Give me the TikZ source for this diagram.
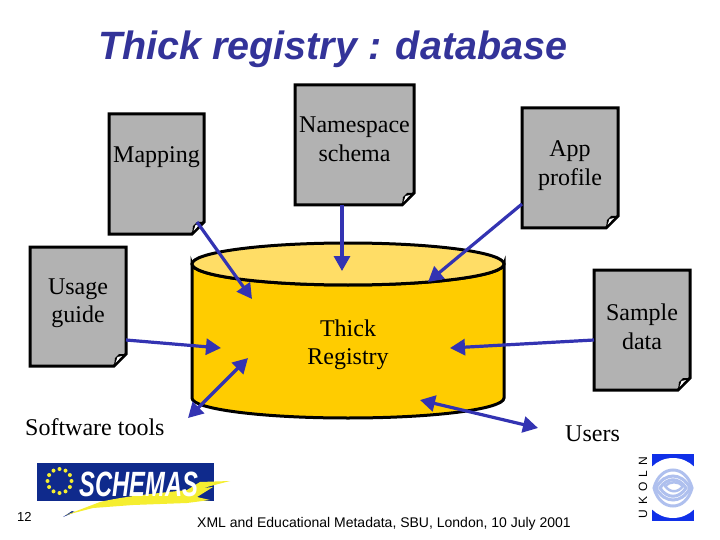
\documentclass[tikz,border=0pt]{standalone}
\usepackage{fontspec}
\setmainfont{Liberation Serif}
\newfontfamily\arialf{Liberation Sans}
\usetikzlibrary{arrows.meta,calc}
\definecolor{arrowblue}{HTML}{3333B2}
\definecolor{titleblue}{HTML}{333399}
\definecolor{docgray}{HTML}{B2B2B2}
\definecolor{cylbody}{HTML}{FFCC00}
\definecolor{cyltop}{HTML}{FFDD66}
\definecolor{logoblue}{HTML}{0F2A8C}
\definecolor{swoosh}{HTML}{F5EE30}
\definecolor{uk}{HTML}{1030E8}
\definecolor{ring}{HTML}{AFC0EE}
\tikzset{
  x=1pt,y=-1pt,
  docbox/.style={draw=none,fill=none,inner sep=0pt,align=center,font=\fontsize{24}{28.5}\selectfont},
  docline/.style={draw=black,line width=3pt,fill=docgray,line join=miter},
  flow/.style={draw=arrowblue,line width=3.2pt,-{Triangle[length=15pt,width=16pt]}},
  flowboth/.style={draw=arrowblue,line width=3.2pt,{Triangle[length=15pt,width=16pt]}-{Triangle[length=15pt,width=16pt]}},
  lbl/.style={inner sep=0pt,align=center,font=\fontsize{24}{28.5}\selectfont},
  foot/.style={inner sep=0pt,anchor=base west,font=\arialf\fontsize{14}{16}\selectfont},
}
% x0 y0 x1 y1 : a page with a turned corner
\newcommand{\pagedoc}[4]{%
  \draw[docline] (#1,#2) -- (#3,#2) -- (#3,#4-12) -- (#3-12,#4) -- (#1,#4) -- cycle;
  \fill[black] (#3-12,#4) -- (#3,#4-12) -- (#3-7,#4-12) -- (#3-11,#4-8) -- cycle;
  \fill[white] (#3-10.5,#4-3) -- (#3-8.5,#4-9) -- (#3-4,#4-10) -- cycle;
}
\begin{document}
\begin{tikzpicture}
\useasboundingbox (0,0) rectangle (720,540);
\fill[white] (0,0) rectangle (720,540);
\node[inner sep=0pt,anchor=base west,text=titleblue,font=\arialf\bfseries\itshape\fontsize{39.5}{41}\selectfont] (title) at (98,60) {Thick registry : database};

% cylinder
\draw[fill=cylbody,draw=black,line width=3pt] (192,264) -- (192,398) arc[start angle=180,end angle=360,x radius=156,y radius=-20] -- (504,264) arc[start angle=0,end angle=-180,x radius=156,y radius=-21] -- cycle;
\draw[fill=cyltop,draw=black,line width=3pt] (348,264) ellipse[x radius=156,y radius=21];
\node[lbl] (reg) at (348,345) {Thick\\Registry};

% documents
\pagedoc{109}{114}{204}{234}
\pagedoc{295}{85}{414}{205}
\pagedoc{522}{108}{618}{228}
\pagedoc{30}{247}{126}{366}
\pagedoc{594}{270}{690}{390}
\node[docbox] (mapping) at (156.5,157) {Mapping};
\node[docbox] (namespace) at (354.5,139.5) {Namespace\\schema};
\node[docbox] (app) at (570,165.5) {App\\profile};
\node[docbox] (usage) at (78,303) {Usage\\guide};
\node[docbox] (sample) at (642,327) {Sample\\data};
\node[lbl,anchor=base west] (tools) at (25,435) {Software tools};
\node[lbl,anchor=base west] (users) at (565,441) {Users};

% connector ends
\coordinate (mapE) at (197,222);
\coordinate (mapT) at (252,299);
\coordinate (nsE) at (342,205);
\coordinate (nsT) at (342,271);
\coordinate (appE) at (522,204);
\coordinate (appT) at (428,282);
\coordinate (useE) at (126,340);
\coordinate (useT) at (221,348);
\coordinate (samE) at (594,340);
\coordinate (samT) at (450,348);
\coordinate (toolA) at (248,358);
\coordinate (toolB) at (188,418);
\coordinate (userA) at (420,400);
\coordinate (userB) at (538,428);
\draw[flow] (mapE) -- (mapT);
\draw[flow] (nsE) -- (nsT);
\draw[flow] (appE) -- (appT);
\draw[flow] (useE) -- (useT);
\draw[flow] (samE) -- (samT);
\draw[flowboth] (toolA) -- (toolB);
\draw[flowboth] (userA) -- (userB);

% SCHEMAS logo
\fill[logoblue] (37,463) rectangle (214,501);
\foreach \a in {0,30,...,330}
  \fill[swoosh] ($(59.5,481)+(\a:12)$) circle[radius=2];
\fill[logoblue] (63,517) -- (72,511) -- (75,512) -- cycle;
\fill[swoosh] (66,515) -- (100,502) .. controls (125,496) and (160,493) .. (187,490) -- (200,482) -- (230,481) -- (203,488) -- (213,487) -- (197,497) -- (210,500) -- (187,503) -- (133,505) -- (93,508) -- cycle;
\node[inner sep=0pt,text=white,font=\arialf\bfseries\itshape\fontsize{27}{30}\selectfont,xscale=0.88,yscale=1.3] (schemas) at (139,484) {SCHEMAS};

% UKOLN logo
\begin{scope}
\clip (652,454) rectangle (694,521);
\fill[uk] (652,454) rectangle (694,521);
\fill[white] (673,488) circle[radius=30];
\draw[ring,line width=3pt] (654,488) .. controls (660,464) and (686,464) .. (692,488) .. controls (686,512) and (660,512) .. (654,488) -- cycle;
\draw[ring,line width=3pt] (656,488) .. controls (664,472) and (682,472) .. (690,488) .. controls (682,504) and (664,504) .. (656,488) -- cycle;
\draw[ring,line width=3pt] (660,488) .. controls (667,477) and (679,477) .. (686,488) .. controls (679,499) and (667,499) .. (660,488) -- cycle;
\draw[ring,line width=2.5pt] (665,486) .. controls (670,481) and (678,481) .. (683,486) .. controls (678,493) and (670,493) .. (665,486) -- cycle;
\end{scope}
\node[inner sep=0pt,rotate=90,font=\arialf\fontsize{12}{13}\selectfont] (ukoln) at (643,487.5) {U\hspace{5pt}K\hspace{5pt}O\hspace{5pt}L\hspace{5pt}N};

% footer
\node[foot,font=\arialf\fontsize{13}{15}\selectfont] (pageno) at (17,521) {12};
\node[foot] (footer) at (197,527) {XML and Educational Metadata, SBU, London, 10 July 2001};
\end{tikzpicture}
\end{document}
